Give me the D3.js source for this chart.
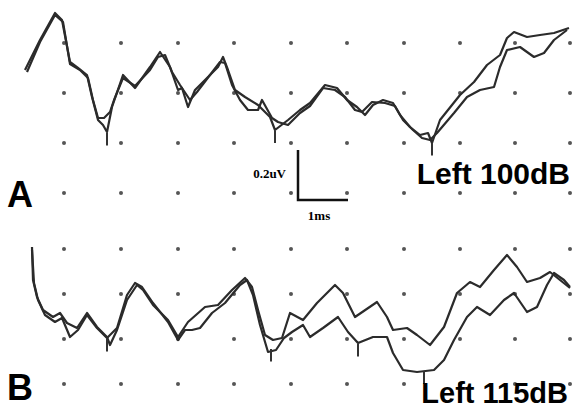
<!DOCTYPE html>
<html>
<head>
<meta charset="utf-8">
<script src="https://cdn.jsdelivr.net/npm/d3@7"></script>
<style>
body { margin: 0; background: #fff; }
</style>
</head>
<body>
<div id="chart"></div>
<script>
// time in ms, amplitude in uV
var timeA1 = [0, 0.30, 0.60, 0.74, 0.90, 1.06, 1.24, 1.34, 1.46, 1.56, 1.64, 1.74, 1.96, 2.20, 2.50, 2.70, 2.90, 3.06, 3.14, 3.26, 3.40, 3.66, 3.86, 3.96, 4.06, 4.20, 4.40, 4.66, 4.90, 5.00, 5.26, 5.50, 5.70, 6.00, 6.24, 6.44, 6.64, 6.80, 6.96, 7.16, 7.36, 7.50, 7.70, 7.90, 8.06, 8.14, 8.30, 8.70, 8.98, 9.24, 9.50, 9.64, 9.78, 10.04, 10.30, 10.58, 10.88];
var ampA1 = [0.092, 0.212, 0.320, 0.292, 0.124, 0.100, 0.072, -0.016, -0.108, -0.128, -0.156, -0.056, 0.072, 0.020, 0.104, 0.164, 0.104, 0.012, 0.020, -0.056, 0.012, 0.064, 0.104, 0.144, 0.092, 0.012, -0.016, -0.048, -0.096, -0.148, -0.108, -0.068, -0.040, 0.032, 0.020, -0.028, -0.056, -0.088, -0.048, -0.028, -0.040, -0.088, -0.136, -0.168, -0.160, -0.200, -0.108, -0.008, 0.044, 0.112, 0.152, 0.220, 0.244, 0.224, 0.232, 0.240, 0.260];

var timeA2 = [0.04, 0.30, 0.60, 0.76, 0.90, 1.10, 1.26, 1.36, 1.46, 1.58, 1.70, 1.78, 1.96, 2.20, 2.50, 2.66, 2.80, 2.94, 3.10, 3.30, 3.44, 3.70, 3.90, 4.00, 4.14, 4.30, 4.46, 4.66, 4.74, 4.94, 5.06, 5.26, 5.50, 5.70, 5.96, 6.20, 6.40, 6.60, 6.74, 6.94, 7.20, 7.40, 7.56, 7.76, 7.94, 8.10, 8.24, 8.58, 8.84, 9.10, 9.38, 9.50, 9.64, 9.90, 10.18, 10.38, 10.58, 10.84];
var ampA2 = [0.084, 0.204, 0.312, 0.284, 0.116, 0.092, 0.060, -0.028, -0.100, -0.100, -0.076, -0.028, 0.060, 0.028, 0.092, 0.144, 0.152, 0.084, 0.032, -0.028, 0.004, 0.072, 0.124, 0.120, 0.032, -0.028, -0.068, -0.068, -0.028, -0.100, -0.116, -0.128, -0.080, -0.052, 0.020, 0.012, -0.016, -0.068, -0.076, -0.036, -0.040, -0.052, -0.108, -0.148, -0.180, -0.188, -0.160, -0.080, -0.016, 0.012, 0.024, 0.104, 0.172, 0.184, 0.144, 0.160, 0.212, 0.252];

var timeB1 = [0.14, 0.16, 0.24, 0.36, 0.56, 0.70, 0.84, 1.04, 1.24, 1.44, 1.64, 1.70, 1.84, 2.04, 2.24, 2.36, 2.56, 2.86, 3.06, 3.26, 3.60, 3.86, 4.14, 4.40, 4.54, 4.66, 4.80, 4.96, 5.14, 5.30, 5.56, 5.84, 6.20, 6.36, 6.60, 7.04, 7.24, 7.36, 7.64, 7.84, 8.10, 8.38, 8.64, 8.90, 9.10, 9.38, 9.64, 9.84, 10.04, 10.30, 10.50, 10.70, 10.90];
var ampB1 = [0.188, 0.056, -0.012, -0.064, -0.092, -0.076, -0.116, -0.136, -0.076, -0.132, -0.172, -0.204, -0.144, -0.024, 0.036, 0.016, -0.044, -0.104, -0.172, -0.112, -0.052, -0.044, 0.016, 0.064, 0.028, -0.064, -0.164, -0.184, -0.176, -0.076, -0.104, -0.036, 0.036, 0.004, -0.092, -0.032, -0.092, -0.144, -0.136, -0.164, -0.204, -0.132, 0.004, 0.048, 0.028, 0.096, 0.156, 0.108, 0.048, 0.064, 0.088, 0.056, 0.024];

var timeB2 = [0.14, 0.18, 0.26, 0.40, 0.60, 0.74, 0.90, 1.06, 1.24, 1.44, 1.64, 1.84, 2.04, 2.20, 2.34, 2.56, 2.86, 3.06, 3.20, 3.34, 3.50, 3.74, 4.00, 4.30, 4.44, 4.56, 4.70, 4.86, 5.02, 5.18, 5.34, 5.56, 5.70, 5.96, 6.26, 6.46, 6.66, 6.96, 7.24, 7.36, 7.56, 7.84, 8.18, 8.38, 8.58, 8.84, 9.04, 9.30, 9.58, 9.78, 10.04, 10.24, 10.44, 10.58, 10.78, 10.90];
var ampB2 = [0.176, 0.044, -0.024, -0.084, -0.112, -0.096, -0.172, -0.144, -0.084, -0.136, -0.176, -0.136, -0.004, 0.044, 0.028, -0.036, -0.112, -0.184, -0.144, -0.144, -0.136, -0.076, -0.036, 0.036, 0.056, -0.004, -0.124, -0.232, -0.224, -0.176, -0.152, -0.124, -0.172, -0.136, -0.092, -0.152, -0.196, -0.172, -0.172, -0.236, -0.304, -0.312, -0.304, -0.264, -0.184, -0.092, -0.052, -0.084, -0.024, 0.004, -0.072, -0.052, 0.036, 0.084, 0.056, 0.028];

// peak markers (time, amplitude at top of tick)
var markA = [[1.64, -0.16], [5.00, -0.15], [8.14, -0.20]];
var markB = [[1.64, -0.18], [4.92, -0.22], [6.66, -0.20], [7.98, -0.31]];

// dotted grid
var gridT = [0.78, 1.92, 3.06, 4.18, 5.32, 6.44, 7.58, 8.70, 9.80, 10.90];
var gridA = [0.2, 0, -0.2, -0.4];
var gridB = [0.18, 0, -0.18, -0.36];

var width = 577, height = 410;

var x = d3.scaleLinear().domain([0, 11]).range([25, 575]);
var yA = d3.scaleLinear().domain([-0.4, 0.2]).range([193, 43]);
var yB = d3.scaleLinear().domain([-0.36, 0.18]).range([384, 249]);

var svg = d3.select("#chart").append("svg")
.attr("width", width)
.attr("height", height)
.style("font-family", "'Liberation Sans', Arial, sans-serif");

function zip(t, v) {
    return t.map(function(d, i) { return [d, v[i]]; });
}

function drawGrid(rows, y) {
    rows.forEach(function(r) {
        svg.append("g").selectAll("circle")
        .data(gridT)
        .enter().append("circle")
        .attr("cx", function(d) { return x(d); })
        .attr("cy", y(r))
        .attr("r", 2)
        .attr("fill", "#555");
    });
}

function drawTrace(data, y) {
    var line = d3.line()
    .x(function(d) { return x(d[0]); })
    .y(function(d) { return y(d[1]); });
    svg.append("path")
    .datum(data)
    .attr("d", line)
    .attr("fill", "none")
    .attr("stroke", "#2b2b2b")
    .attr("stroke-width", 2.2)
    .attr("stroke-linejoin", "round");
}

function drawMarks(marks, y) {
    svg.append("g").selectAll("line")
    .data(marks)
    .enter().append("line")
    .attr("x1", function(d) { return x(d[0]); })
    .attr("x2", function(d) { return x(d[0]); })
    .attr("y1", function(d) { return y(d[1]); })
    .attr("y2", function(d) { return y(d[1] - 0.05); })
    .attr("stroke", "#333")
    .attr("stroke-width", 2);
}

drawGrid(gridA, yA);
drawGrid(gridB, yB);

drawTrace(zip(timeA2, ampA2), yA);
drawTrace(zip(timeA1, ampA1), yA);
drawTrace(zip(timeB2, ampB2), yB);
drawTrace(zip(timeB1, ampB1), yB);
drawMarks(markA, yA);
drawMarks(markB, yB);

// scale bar: 1 ms x 0.2 uV
var barT = 5.46, barV = -0.428;
svg.append("path")
.attr("d", "M" + x(barT) + "," + yA(barV + 0.2) + "V" + yA(barV) + "H" + x(barT + 1))
.attr("fill", "none")
.attr("stroke", "#111")
.attr("stroke-width", 2.5);

svg.append("text")
.attr("x", x(barT) - 12)
.attr("y", yA(barV + 0.1) + 3)
.attr("text-anchor", "end")
.style("font-family", "'Liberation Serif', 'Times New Roman', serif")
.style("font-weight", "bold")
.style("font-size", "13px")
.text("0.2uV");

svg.append("text")
.attr("x", x(barT + 0.5) - 4)
.attr("y", yA(barV) + 20)
.attr("text-anchor", "middle")
.style("font-family", "'Liberation Serif', 'Times New Roman', serif")
.style("font-weight", "bold")
.style("font-size", "13px")
.text("1ms");

// panel labels
svg.append("text").attr("x", 7).attr("y", 207)
.style("font-weight", "bold").style("font-size", "36px").text("A");
svg.append("text").attr("x", 7).attr("y", 400)
.style("font-weight", "bold").style("font-size", "36px").text("B");

svg.append("text").attr("x", 570).attr("y", 184)
.attr("text-anchor", "end")
.style("font-weight", "bold").style("font-size", "30px").text("Left 100dB");
svg.append("text").attr("x", 568).attr("y", 403)
.attr("text-anchor", "end")
.style("font-weight", "bold").style("font-size", "29px").text("Left 115dB");
</script>
</body>
</html>
